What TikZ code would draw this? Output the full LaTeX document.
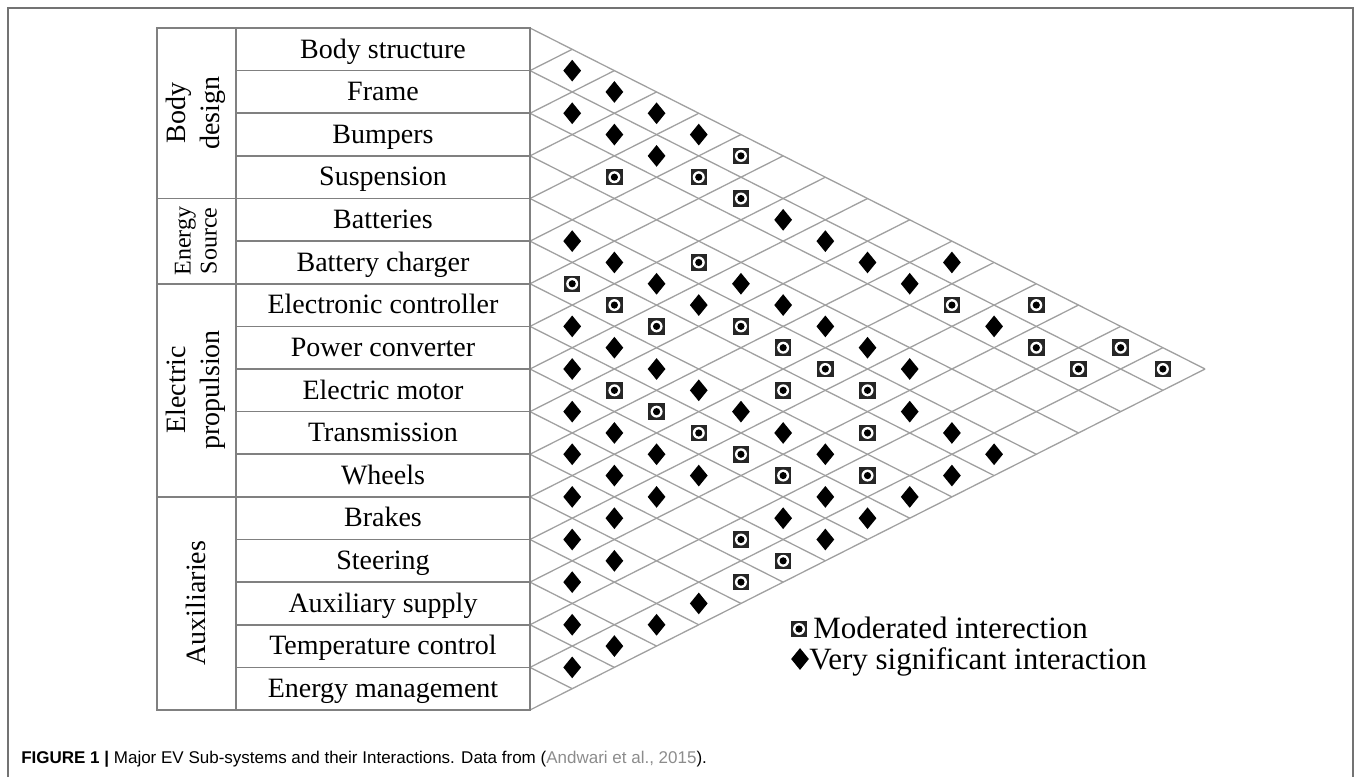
\documentclass[tikz,border=0pt]{standalone}
\usepackage{fontspec}
\setmainfont{Liberation Serif}
\newfontfamily\capfont{Liberation Sans}
\usetikzlibrary{shapes.geometric}
\definecolor{tabline}{HTML}{808080}
\definecolor{gridgrey}{HTML}{A0A0A0}
\definecolor{framegrey}{HTML}{737373}
\definecolor{citegrey}{HTML}{8C8C8C}

\begin{document}
\begin{tikzpicture}[x=1pt, y=-1pt, semithick]
    \tikzstyle{tab}=[draw=tabline, line width=1.6pt]
    \tikzstyle{web}=[draw=gridgrey, line width=1.3pt]
    \tikzstyle{item}=[anchor=base, inner sep=0pt, font=\fontsize{28}{32}\selectfont]
    \tikzstyle{group}=[rotate=90, align=center, inner sep=0pt, font=\fontsize{28}{34}\selectfont]
    \tikzstyle{legend}=[anchor=west, inner sep=0pt, font=\fontsize{31}{34}\selectfont]
    \tikzstyle{vsig}=[diamond, fill=black, inner sep=0pt, minimum width=18pt, minimum height=22pt]
    \tikzstyle{moder}=[rectangle, fill=black!85, inner sep=0pt, minimum size=16.5pt,
        path picture={\fill[white] (path picture bounding box.center) circle (6pt);
                      \fill[black] (path picture bounding box.center) circle (3.6pt);}]
    \def\rh{42.625}
    \def\cw{42.19}
    \useasboundingbox (0,0) rectangle (1354,777);
    \draw[draw=framegrey, line width=2pt] (8,777) -- (8,8) -- (1353,8) -- (1353,777);

    \foreach \k in {0,...,16} {
      \coordinate (e_\k) at (530, {28+\k*\rh});
      \draw[web] (e_\k) -- ({530+(16-\k)*\cw}, {369+\k*\rh/2});
      \draw[web] (e_\k) -- ({530+\k*\cw}, {28+\k*\rh/2});
    }

    \draw[tab] (157,28) rectangle (530,710);
    \draw[tab] (236,28) -- (236,710);
    \foreach \k in {1,...,15}
      \draw[tab] (236, {28+\k*\rh}) -- (530, {28+\k*\rh});
    \foreach \k in {4,6,11}
      \draw[tab] (157, {28+\k*\rh}) -- (236, {28+\k*\rh});

    \foreach \n/\t in {1/Body structure, 2/Frame, 3/Bumpers, 4/Suspension, 5/Batteries,
        6/Battery charger, 7/Electronic controller, 8/Power converter, 9/Electric motor,
        10/Transmission, 11/Wheels, 12/Brakes, 13/Steering, 14/Auxiliary supply,
        15/Temperature control, 16/Energy management}
      \node[item] (r_\n) at (383, {28+(\n-1)*\rh+30}) {\t};

    \node[group] (g_body) at (196,113) {Body\\design};
    \node[group, font=\fontsize{24}{26}\selectfont] (g_energy) at (196,241) {Energy\\Source};
    \node[group] (g_prop) at (196,390) {Electric\\propulsion};
    \node[group] (g_aux) at (196,603) {Auxiliaries};

    \foreach \i/\j in {1/2,1/3,2/3,1/4,2/4,1/5,2/5,2/8,5/6,2/9,2/10,1/11,5/7,5/8,4/9,2/11,
        5/9,4/10,7/8,4/11,2/13,7/9,4/12,8/9,7/10,4/13,7/11,9/10,7/12,5/14,9/11,7/13,5/15,
        10/11,9/12,7/14,5/16,10/12,9/13,6/16,11/12,10/13,8/15,7/16,11/13,9/15,8/16,12/13,
        9/16,12/14,13/14,12/16,14/15,13/16,14/16,15/16}
      \node[vsig] (v_\i_\j) at ({530+(\j-\i)*\cw}, {28+((\i+\j)/2-0.5)*\rh}) {};
    \foreach \i/\j in {1/6,3/5,2/6,2/7,4/8,6/7,6/8,2/12,1/13,6/9,5/10,5/11,2/14,1/15,5/12,
        2/15,1/16,8/10,6/12,5/13,8/11,8/12,6/14,8/13,8/14,7/15,10/15,10/16,11/16}
      \node[moder] (m_\i_\j) at ({530+(\j-\i)*\cw}, {28+((\i+\j)/2-0.5)*\rh}) {};

    \node[moder] (l_mod) at (799,629) {};
    \node[legend] (l_modtxt) at (813,628) {Moderated interection};
    \node[vsig] (l_sig) at (800,659) {};
    \node[legend] (l_sigtxt) at (809,662) {Very significant interaction};

    \node[anchor=base west, inner sep=0pt, font=\capfont\fontsize{17}{20}\selectfont] (cap) at (21,763)
      {\textbf{FIGURE 1 |} Major EV Sub-systems and their Interactions. Data from (\textcolor{citegrey}{Andwari et al., 2015}).};
\end{tikzpicture}
\end{document}
